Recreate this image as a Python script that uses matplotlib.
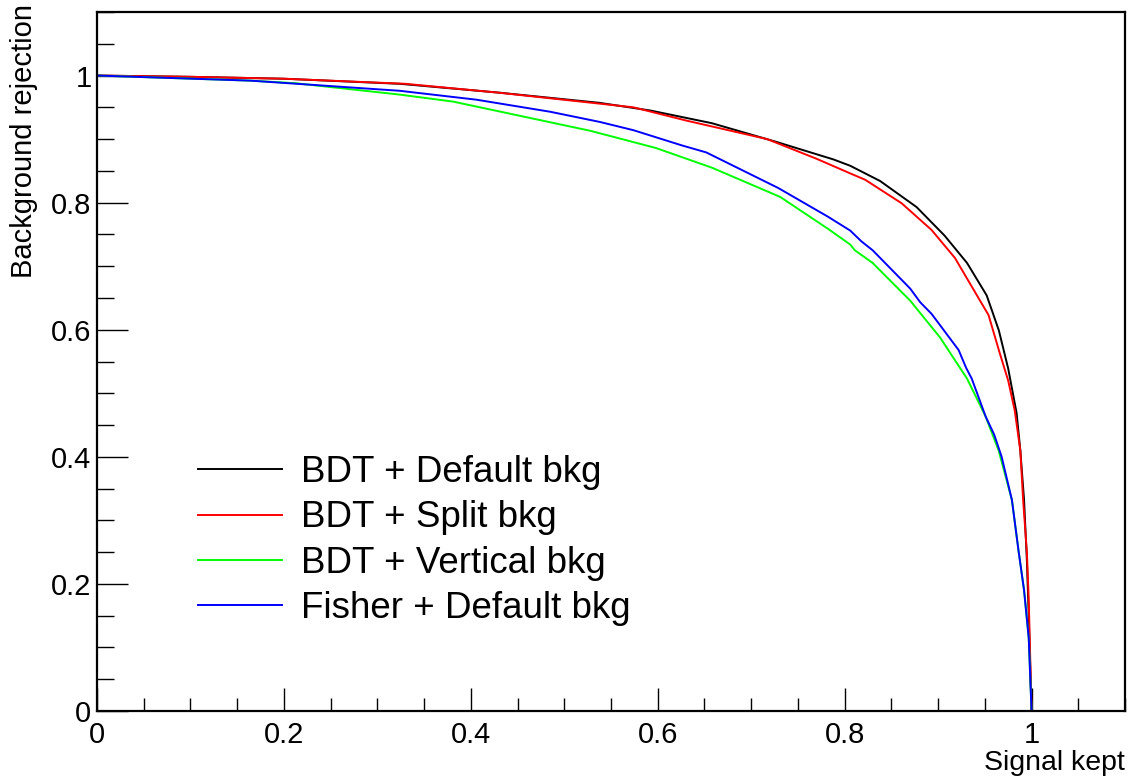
import numpy as np
import matplotlib.pyplot as plt
from matplotlib.ticker import MultipleLocator, FormatStrFormatter

plt.rcParams['font.family'] = ['Liberation Sans', 'DejaVu Sans']

# --- curves ---
labels = ["BDT + Default bkg", "BDT + Split bkg", "BDT + Vertical bkg", "Fisher + Default bkg"]
colors = ["#000000", "#ff0000", "#00ff00", "#0000ff"]

sig_default = [0, 0.10, 0.2, 0.324, 0.431, 0.538, 0.592, 0.658, 0.726, 0.788, 0.806, 0.838,
               0.877, 0.907, 0.931, 0.952, 0.965, 0.975, 0.984, 0.988, 0.992, 0.995, 0.997, 1.0]
rej_default = [1.0, 0.998, 0.995, 0.987, 0.973, 0.957, 0.945, 0.925, 0.896, 0.868, 0.858, 0.834,
               0.793, 0.748, 0.705, 0.654, 0.599, 0.539, 0.469, 0.410, 0.332, 0.237, 0.15, 0.0]

sig_split = [0, 0.1, 0.2, 0.33, 0.43, 0.574, 0.631, 0.717, 0.770, 0.806, 0.822, 0.861, 0.893,
             0.918, 0.954, 0.966, 0.975, 0.982, 0.988, 0.991, 0.995, 0.997, 1.0]
rej_split = [1.0, 0.998, 0.995, 0.987, 0.973, 0.950, 0.929, 0.900, 0.869, 0.846, 0.836, 0.799, 0.757,
             0.713, 0.623, 0.563, 0.520, 0.473, 0.41, 0.332, 0.25, 0.175, 0.0]

sig_vertical = [0, 0.164, 0.212, 0.324, 0.381, 0.528, 0.598, 0.658, 0.731, 0.782, 0.806, 0.811,
                0.830, 0.870, 0.902, 0.931, 0.951, 0.965, 0.979, 0.986, 0.992, 0.997, 1.0]
rej_vertical = [1.0, 0.992, 0.988, 0.970, 0.959, 0.913, 0.886, 0.855, 0.809, 0.759, 0.734, 0.725,
                0.705, 0.646, 0.588, 0.523, 0.463, 0.409, 0.332, 0.253, 0.19, 0.115, 0.0]

sig_fisher = [0, 0.164, 0.324, 0.406, 0.485, 0.538, 0.574, 0.626, 0.652, 0.729, 0.782, 0.806, 0.818,
              0.830, 0.870, 0.881, 0.893, 0.922, 0.930, 0.936, 0.951, 0.960, 0.968, 0.979, 0.986,
              0.992, 0.997, 1.0]
rej_fisher = [1.0, 0.992, 0.976, 0.962, 0.943, 0.927, 0.914, 0.890, 0.879, 0.823, 0.778, 0.756, 0.739,
              0.725, 0.665, 0.643, 0.625, 0.568, 0.540, 0.523, 0.463, 0.435, 0.400, 0.332, 0.253,
              0.19, 0.115, 0.0]

curves = [(sig_default, rej_default), (sig_split, rej_split),
          (sig_vertical, rej_vertical), (sig_fisher, rej_fisher)]

fig = plt.figure(figsize=(11.35, 7.8), dpi=100)
ax = fig.add_axes([97 / 1135, 1 - 711 / 780, 1028 / 1135, 699 / 780])

for (xs, ys), lab, col in zip(curves, labels, colors):
    ax.plot(xs, ys, color=col, lw=1.4, label=lab)

ax.set_xlim(0, 1.1)
ax.set_ylim(0, 1.1)
for axis in (ax.xaxis, ax.yaxis):
    axis.set_major_locator(MultipleLocator(0.2))
    axis.set_minor_locator(MultipleLocator(0.05))
    axis.set_major_formatter(FormatStrFormatter('%g'))
for s in ax.spines.values():
    s.set_linewidth(1.6)

ax.tick_params(axis='x', which='major', direction='in', length=16.5, width=1.0, labelsize=21, pad=7)
ax.tick_params(axis='x', which='minor', direction='in', length=9.5, width=1.0)
ax.tick_params(axis='y', which='major', direction='in', length=22, width=1.0, labelsize=21, pad=4)
ax.tick_params(axis='y', which='minor', direction='in', length=12, width=1.0)

fig.text(1125 / 1135, 1 - 770 / 780, "Signal kept", ha='right', va='baseline', fontsize=20.5)
fig.text(24 / 1135, 1 - 4 / 780, "Background rejection", rotation=90, ha='center', va='top', fontsize=21)

ax.legend(loc='upper left', bbox_to_anchor=(0.098, 0.366), frameon=False, fontsize=26.5,
          handlelength=2.3, handletextpad=0.5, labelspacing=0.28, borderpad=0, borderaxespad=0)

fig.savefig("out.png", dpi=100)
